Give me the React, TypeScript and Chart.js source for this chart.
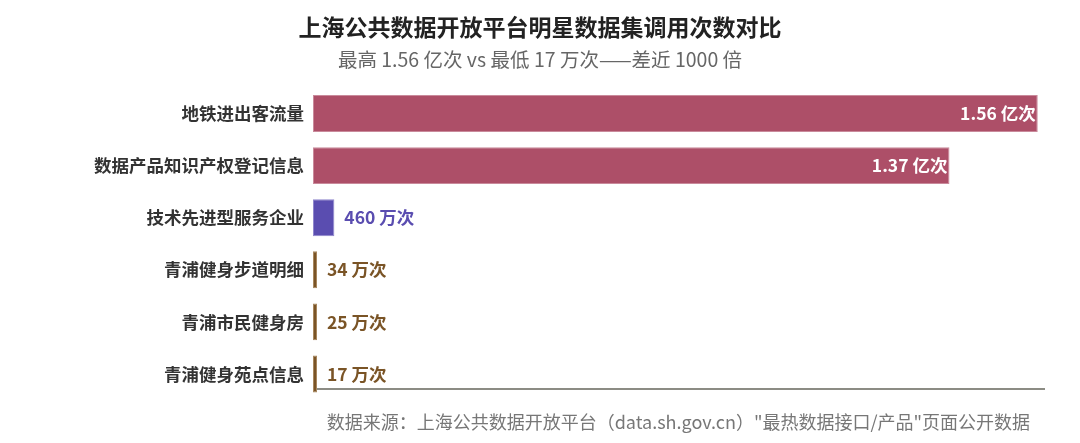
import { useEffect, useRef } from "react";
import { Chart, registerables } from "chart.js";

Chart.register(...registerables);

const FONT = '"Noto Sans CJK SC", "Noto Sans", sans-serif';

// 调用次数（单位：万次）
const datasetNames = [
  "地铁进出客流量",
  "数据产品知识产权登记信息",
  "技术先进型服务企业",
  "青浦健身步道明细",
  "青浦市民健身房",
  "青浦健身苑点信息",
];
const callCounts = [15600, 13700, 460, 34, 25, 17];
const valueLabels = ["1.56 亿次", "1.37 亿次", "460 万次", "34 万次", "25 万次", "17 万次"];
const barColors = ["#ad4f68", "#ad4f68", "#5a4db0", "#7a5426", "#7a5426", "#7a5426"];
const borderColors = ["#c98a9b", "#c98a9b", "#8f86cc", "#a8875e", "#a8875e", "#a8875e"];
const labelColors = ["#ffffff", "#ffffff", "#5a4db0", "#7a5426", "#7a5426", "#7a5426"];

const titleText = "上海公共数据开放平台明星数据集调用次数对比";
const subtitleText = "最高 1.56 亿次 vs 最低 17 万次——差近 1000 倍";
const sourceText =
  '数据来源：上海公共数据开放平台（data.sh.gov.cn）"最热数据接口/产品"页面公开数据';

const decorPlugin = {
  id: "decor",
  beforeDatasetsDraw(chart: Chart) {
    const { ctx, chartArea } = chart;
    ctx.save();
    ctx.strokeStyle = "#8c8c84";
    ctx.lineWidth = 2;
    ctx.beginPath();
    const y = chartArea.bottom - 11;
    ctx.moveTo(chartArea.left + 2, y);
    ctx.lineTo(chartArea.right, y);
    ctx.stroke();
    ctx.restore();
  },
  afterDatasetsDraw(chart: Chart) {
    const { ctx } = chart;
    const meta = chart.getDatasetMeta(0);
    const xScale = chart.scales.x;
    ctx.save();
    ctx.font = `bold 17.5px ${FONT}`;
    ctx.textBaseline = "middle";
    meta.data.forEach((bar: any, i: number) => {
      const end = xScale.getPixelForValue(callCounts[i]);
      const inside = end - xScale.left > 200;
      ctx.fillStyle = labelColors[i];
      if (inside) {
        ctx.textAlign = "right";
        ctx.fillText(valueLabels[i], bar.x - 2, bar.y);
      } else {
        ctx.textAlign = "left";
        ctx.fillText(valueLabels[i], Math.max(bar.x, end) + 10, bar.y);
      }
    });
    // footer source note
    ctx.font = `18px ${FONT}`;
    ctx.fillStyle = "#777777";
    ctx.textAlign = "right";
    ctx.fillText(sourceText, chart.width - 42, chart.height - 13);
    ctx.restore();
  },
};

export default function App() {
  const canvasRef = useRef<HTMLCanvasElement>(null);
  const chartRef = useRef<Chart | null>(null);

  useEffect(() => {
    if (!canvasRef.current) return;
    const ctx = canvasRef.current.getContext("2d");
    if (!ctx) return;

    if (chartRef.current) {
      chartRef.current.destroy();
      chartRef.current = null;
    }

    chartRef.current = new Chart(ctx, {
      type: "bar",
      data: {
        labels: datasetNames,
        datasets: [
          {
            data: callCounts,
            backgroundColor: barColors,
            borderColor: borderColors,
            borderWidth: 1,
            borderSkipped: false,
            categoryPercentage: 1,
            barPercentage: 0.71,
            minBarLength: 4,
          },
        ],
      },
      options: {
        indexAxis: "y",
        animation: false,
        responsive: true,
        maintainAspectRatio: false,
        layout: { padding: { left: 27, right: 27, top: 0, bottom: 35 } },
        plugins: {
          legend: { display: false },
          tooltip: { enabled: false },
          title: {
            display: true,
            text: titleText,
            color: "#222222",
            font: { family: FONT, size: 23, weight: "bold" },
            padding: { top: 5.2, bottom: 6 },
          },
          subtitle: {
            display: true,
            text: subtitleText,
            color: "#666666",
            font: { family: FONT, size: 19.5 },
            padding: { top: 1.5, bottom: 15.8 },
          },
        },
        scales: {
          x: {
            display: false,
            min: 0,
            max: Math.max(...callCounts) * 1.01,
          },
          y: {
            grid: { display: false, drawTicks: false },
            border: { display: false },
            afterFit: (scale: any) => {
              scale.width = 278;
            },
            ticks: {
              color: "#333333",
              padding: 9,
              font: { family: FONT, size: 17.5, weight: "bold" },
            },
          },
        },
      },
      plugins: [decorPlugin],
    });

    return () => {
      chartRef.current?.destroy();
      chartRef.current = null;
    };
  }, []);

  return (
    <div style={{ position: "relative", width: "100%", height: "427px" }}>
      <canvas ref={canvasRef} />
    </div>
  );
}
